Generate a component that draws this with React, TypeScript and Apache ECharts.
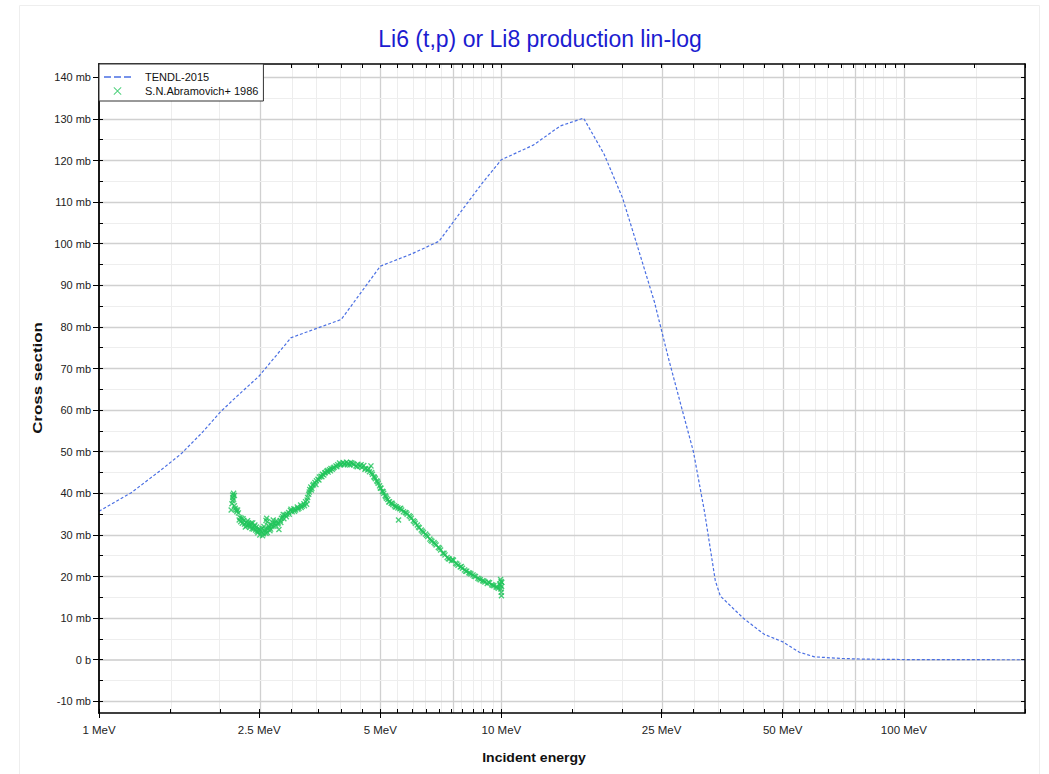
import React, { useEffect, useRef } from 'react';
import * as echarts from 'echarts';

const FONT = 'Liberation Sans, Arial, Helvetica, sans-serif';

// TENDL-2015 evaluation (MeV, mb)
const tendlEnergy = [1, 1.2, 1.4, 1.6, 1.8, 2, 2.2, 2.5, 3, 4, 5, 6, 7, 8, 9, 10, 12, 14, 16, 18, 20, 22, 24, 26, 28, 30, 32, 34, 35, 40, 45, 50, 55, 60, 70, 80, 100, 150, 200];
const tendlXs = [35.7, 40.1, 45.0, 49.5, 54.5, 59.5, 63.3, 68.2, 77.4, 81.8, 94.6, 97.6, 100.6, 108.2, 114.8, 120.2, 123.7, 128.3, 130.2, 121.5, 111, 98, 86, 72.5, 60.8, 50, 35.3, 19, 15.3, 9.9, 6.1, 4.3, 1.8, 0.7, 0.3, 0.15, 0.05, 0.01, 0];

// S.N.Abramovich+ 1986 measurement (MeV, mb)
const exforEnergy = [
  2.14, 2.15, 2.16, 2.15, 2.13, 2.17, 2.16,
  2.19, 2.20, 2.21, 2.22,
  2.24, 2.25, 2.26, 2.27, 2.29, 2.30, 2.32, 2.33, 2.35, 2.37, 2.38, 2.40, 2.41, 2.43, 2.45, 2.46,
  2.48, 2.50, 2.51, 2.53, 2.54, 2.56, 2.57, 2.58, 2.60, 2.61, 2.62, 2.63, 2.64, 2.66,
  2.68, 2.70, 2.72, 2.74, 2.76, 2.78, 2.80, 2.82, 2.84, 2.86, 2.88,
  2.90, 2.93, 2.96, 2.99, 3.02, 3.05, 3.08, 3.11, 3.14, 3.17, 3.20, 3.23, 3.26, 3.28,
  3.30, 3.32, 3.34, 3.36, 3.38, 3.41, 3.44, 3.47, 3.50,
  3.53, 3.56, 3.59, 3.62, 3.65, 3.68, 3.71, 3.74, 3.77, 3.80,
  3.84, 3.88, 3.92, 3.96, 4.00, 4.04, 4.08, 4.12, 4.16, 4.20, 4.25, 4.30, 4.35, 4.40, 4.45, 4.50, 4.55, 4.60,
  4.65, 4.70, 4.74, 4.78, 4.82, 4.86, 4.90, 4.94,
  4.98, 5.02, 5.06, 5.10, 5.14, 5.18, 5.22, 5.27, 5.32,
  5.37, 5.42, 5.48, 5.53, 5.55, 5.59, 5.65, 5.71, 5.77, 5.83,
  5.90, 5.97, 6.04, 6.11, 6.18, 6.25, 6.32, 6.40, 6.48, 6.56, 6.64, 6.72, 6.80, 6.88, 6.97, 7.06, 7.15, 7.24,
  7.33, 7.42, 7.51, 7.60, 7.70, 7.80, 7.90, 8.00, 8.10, 8.20, 8.30, 8.40,
  8.50, 8.62, 8.74, 8.86, 8.98, 9.10, 9.22, 9.34, 9.46, 9.58, 9.70, 9.82, 9.90,
  9.95, 9.97, 9.99, 10.00, 10.02, 10.01,
  2.15, 2.17, 2.18, 2.23, 2.28, 2.31, 2.34, 2.36, 2.39, 2.42, 2.44, 2.47, 2.49, 2.52, 2.55, 2.59,
  2.60, 2.62, 2.65, 2.67, 2.69, 2.71, 2.75, 2.79, 2.83, 2.87, 2.92, 2.97, 3.00, 3.06, 3.12, 3.18,
  3.24, 3.29, 3.33, 3.37, 3.40, 3.46, 3.52, 3.58, 3.64, 3.70, 3.76, 3.82, 3.90, 3.98, 4.06, 4.14,
  4.22, 4.28, 4.38, 4.48, 4.58, 4.68, 4.76, 4.84, 4.92, 5.00, 5.08, 5.16, 5.25, 5.35, 5.45, 5.62,
  5.80, 5.94, 6.08, 6.22, 6.36, 6.52, 6.68, 6.84, 7.02, 7.20, 7.38, 7.56, 7.75, 7.95, 8.15, 8.35,
  8.56, 8.80, 9.04, 9.28, 9.52, 9.76, 9.93, 9.98,
];
const exforXs = [
  37.5, 39.0, 40.0, 38.2, 36.0, 39.5, 38.6,
  36.0, 35.6, 36.0, 35.3,
  34.2, 33.2, 34.0, 32.8, 33.5, 32.6, 33.0, 32.2, 32.8, 31.8, 32.5, 31.5, 32.9, 32.1, 31.2, 31.9,
  30.5, 31.5, 30.0, 30.8, 31.6, 30.3, 32.0, 31.0, 30.4, 34.0, 33.2, 31.5, 32.2, 31.0,
  32.5, 33.0, 32.1, 32.8, 33.4, 32.6, 31.3, 33.5, 34.0, 34.4, 33.9,
  34.8, 35.0, 35.4, 35.9, 35.6, 36.3, 36.0, 36.7, 36.4, 37.2, 36.9, 37.5, 38.0, 37.4,
  39.0, 39.8, 40.9, 41.5, 41.2, 42.2, 42.6, 43.0, 43.4,
  43.9, 44.1, 44.6, 44.4, 45.0, 45.3, 45.1, 45.7, 46.0, 45.8,
  46.3, 46.6, 46.9, 47.3, 47.0, 47.4, 47.1, 47.5, 47.2, 46.8, 47.3, 46.9, 46.6, 47.0, 46.5, 46.2, 46.7, 46.0,
  45.6, 45.2, 46.6, 44.6, 44.0, 43.5, 43.0, 42.4,
  41.8, 41.2, 40.5, 40.0, 39.4, 38.8, 38.5, 38.0, 37.6,
  37.3, 37.0, 36.8, 36.5, 33.6, 36.3, 36.0, 35.6, 35.4, 35.0,
  34.6, 34.0, 33.4, 32.8, 32.4, 31.7, 31.2, 30.6, 30.2, 29.6, 29.0, 28.5, 28.2, 27.6, 27.0, 26.4, 25.6, 25.2,
  24.6, 24.2, 23.8, 23.9, 23.2, 22.7, 22.3, 22.0, 21.6, 21.3, 20.9, 20.6,
  20.4, 20.0, 19.6, 19.2, 19.0, 18.7, 18.3, 18.5, 18.0, 17.8, 17.5, 17.2, 18.2,
  19.3, 17.0, 16.2, 15.4, 18.6, 17.6,
  39.6, 37.0, 36.4, 33.6, 33.9, 31.9, 33.4, 32.3, 32.9, 31.4, 32.4, 30.9, 31.0, 31.2, 29.8, 31.4,
  33.5, 30.6, 31.8, 31.4, 32.0, 33.6, 32.3, 32.9, 33.0, 34.9, 34.4, 35.0, 36.2, 35.7, 36.2, 36.6,
  37.0, 38.4, 40.3, 40.8, 41.9, 42.1, 43.2, 44.0, 44.9, 45.5, 45.4, 46.1, 46.4, 46.8, 46.9, 46.9,
  47.4, 47.1, 46.4, 46.9, 45.8, 45.9, 45.0, 43.8, 42.8, 41.3, 40.4, 39.2, 37.9, 37.6, 36.7, 36.4,
  35.3, 34.4, 33.2, 31.9, 30.9, 29.9, 28.7, 27.9, 26.8, 25.6, 24.3, 24.1, 23.0, 22.4, 21.3, 20.8,
  20.1, 19.4, 18.9, 18.6, 17.9, 17.4, 17.9, 18.8,
];

// axes
const xMinE = 1;
const xMaxE = 200;
const yMin = -12.8;
const yMax = 143.2;
const xTickValues = [
  1, 1.5, 2, 2.5, 3, 3.5, 4, 4.5, 5, 5.5, 6, 6.5, 7, 7.5, 8, 8.5, 9, 9.5,
  10, 15, 20, 25, 30, 35, 40, 45, 50, 55, 60, 65, 70, 75, 80, 85, 90, 95,
  100, 150, 200,
];
const xLabelValues = [1, 2.5, 5, 10, 25, 50, 100];
const xLabelTexts = ['1 MeV', '2.5 MeV', '5 MeV', '10 MeV', '25 MeV', '50 MeV', '100 MeV'];
const xDarkGrid = [2.5, 5, 7.5, 10, 25, 50, 75, 100];
const yLabelValues = [-10, 0, 10, 20, 30, 40, 50, 60, 70, 80, 90, 100, 110, 120, 130, 140];
const yMinorValues = [-10, -5, 0, 5, 10, 15, 20, 25, 30, 35, 40, 45, 50, 55, 60, 65, 70, 75, 80, 85, 90, 95, 100, 105, 110, 115, 120, 125, 130, 135, 140];

const TITLE = 'Li6 (t,p) or Li8 production lin-log';
const SERIES_TENDL = 'TENDL-2015';
const SERIES_EXFOR = 'S.N.Abramovich+ 1986';

const lg = (v: number) => Math.log10(v);

const X_SYMBOL = 'path://M0,1.6L1.6,0L5,3.4L8.4,0L10,1.6L6.6,5L10,8.4L8.4,10L5,6.6L1.6,10L0,8.4L3.4,5Z';
const X_LEGEND = 'path://M0,0.8L0.8,0L5,4.2L9.2,0L10,0.8L5.8,5L10,9.2L9.2,10L5,5.8L0.8,10L0,9.2L4.2,5Z';
const DASH_ICON = 'path://M0,0H7V1.5H0Z M10,0H17V1.5H10Z M20,0H27V1.5H20Z';

export default function App() {
  const ref = useRef<HTMLDivElement>(null);

  useEffect(() => {
    if (!ref.current) return;
    const chart = echarts.init(ref.current, undefined, { renderer: 'svg' });

    const xMin = lg(xMinE);
    const xMax = lg(xMaxE);

    const gridLines: any[] = [];
    xTickValues
      .filter((v) => v > xMinE && v < xMaxE)
      .forEach((v) => {
        const dark = xDarkGrid.includes(v);
        gridLines.push({
          xAxis: lg(v),
          lineStyle: { color: dark ? '#d0d0d0' : '#ededed', width: dark ? 1.3 : 1, type: 'solid' },
        });
      });
    yMinorValues.forEach((v) => {
      const major = v % 10 === 0;
      gridLines.push({
        yAxis: v,
        lineStyle: {
          color: v === 0 ? '#d8d8d8' : major ? '#d0d0d0' : '#eeeeee',
          width: v === 0 ? 2.2 : major ? 1.3 : 1,
          type: 'solid',
        },
      });
    });

    const axisCommon = {
      type: 'value' as const,
      min: xMin,
      max: xMax,
      splitLine: { show: false },
      z: 6,
    };

    const option: any = {
      animation: false,
      backgroundColor: '#fff',
      title: {
        text: TITLE,
        left: 535,
        top: 22,
        textAlign: 'center',
        textStyle: { color: '#1c1cd0', fontSize: 23, fontWeight: 'normal', fontFamily: FONT },
      },
      legend: {
        orient: 'vertical',
        left: 99,
        top: 64,
        z: 20,
        padding: [6, 5, 3, 5],
        itemGap: 0,
        itemWidth: 27,
        itemHeight: 8,
        borderColor: '#333',
        borderWidth: 1,
        backgroundColor: '#fff',
        selectedMode: false,
        textStyle: { fontSize: 11, color: '#111', fontFamily: FONT, lineHeight: 14, padding: [0, 0, 0, 9] },
        data: [
          { name: SERIES_TENDL, icon: DASH_ICON },
          { name: SERIES_EXFOR, icon: X_LEGEND },
        ],
      },
      grid: { left: 99, top: 64, right: 24, bottom: 61, show: false },
      xAxis: [
        {
          ...axisCommon,
          position: 'bottom',
          axisLine: { show: true, onZero: false, lineStyle: { color: '#000', width: 1.6 } },
          axisTick: {
            show: true,
            inside: true,
            length: 4,
            customValues: xTickValues.map(lg),
            lineStyle: { color: '#000', width: 1 },
          },
          axisLabel: {
            show: true,
            margin: 11,
            fontSize: 11.5,
            color: '#222',
            fontFamily: FONT,
            customValues: xLabelValues.map(lg),
            formatter: (val: number) => {
              const i = xLabelValues.findIndex((v) => Math.abs(lg(v) - val) < 1e-6);
              return i >= 0 ? xLabelTexts[i] : '';
            },
          },
        },
        {
          ...axisCommon,
          position: 'bottom',
          axisLine: { show: false, onZero: false },
          axisTick: {
            show: true,
            inside: false,
            length: 5,
            customValues: xLabelValues.map(lg),
            lineStyle: { color: '#000', width: 1 },
          },
          axisLabel: { show: false },
        },
        {
          ...axisCommon,
          position: 'top',
          axisLine: { show: true, onZero: false, lineStyle: { color: '#000', width: 1.6 } },
          axisTick: {
            show: true,
            inside: true,
            length: 4,
            customValues: xTickValues.map(lg),
            lineStyle: { color: '#000', width: 1 },
          },
          axisLabel: { show: false },
        },
      ],
      yAxis: [
        {
          type: 'value',
          min: yMin,
          max: yMax,
          position: 'left',
          z: 6,
          splitLine: { show: false },
          axisLine: { show: true, onZero: false, lineStyle: { color: '#000', width: 1.8 } },
          axisTick: {
            show: true,
            inside: true,
            length: 4,
            customValues: yMinorValues,
            lineStyle: { color: '#000', width: 1 },
          },
          axisLabel: {
            show: true,
            margin: 8,
            fontSize: 11,
            color: '#222',
            fontFamily: FONT,
            customValues: yLabelValues,
            formatter: (v: number) => (Math.abs(v) < 1e-9 ? '0 b' : `${Math.round(v)} mb`),
          },
        },
        {
          type: 'value',
          min: yMin,
          max: yMax,
          position: 'left',
          z: 6,
          splitLine: { show: false },
          axisLine: { show: false, onZero: false },
          axisTick: {
            show: true,
            inside: false,
            length: 6,
            customValues: yLabelValues,
            lineStyle: { color: '#000', width: 1 },
          },
          axisLabel: { show: false },
        },
        {
          type: 'value',
          min: yMin,
          max: yMax,
          position: 'right',
          z: 6,
          splitLine: { show: false },
          axisLine: { show: true, onZero: false, lineStyle: { color: '#000', width: 1.6 } },
          axisTick: {
            show: true,
            inside: true,
            length: 4,
            customValues: yMinorValues,
            lineStyle: { color: '#000', width: 1 },
          },
          axisLabel: { show: false },
        },
      ],
      graphic: [
        {
          type: 'rect',
          silent: true,
          z: -10,
          shape: { x: 19.5, y: 5.5, width: 1020, height: 800 },
          style: { fill: 'none', stroke: '#eeeeee', lineWidth: 1 },
        },
        {
          type: 'text',
          x: 37,
          y: 378,
          rotation: Math.PI / 2,
          scaleX: 1.3,
          silent: true,
          style: {
            text: 'Cross section',
            fill: '#111',
            font: `bold 13px ${FONT}`,
            align: 'center',
            verticalAlign: 'middle',
          },
        },
        {
          type: 'text',
          x: 534,
          y: 758,
          scaleX: 1.08,
          silent: true,
          style: {
            text: 'Incident energy',
            fill: '#111',
            font: `bold 13px ${FONT}`,
            align: 'center',
            verticalAlign: 'middle',
          },
        },
      ],
      series: [
        {
          name: '__grid',
          type: 'line',
          data: [],
          z: 1,
          silent: true,
          markLine: {
            z: 1,
            silent: true,
            symbol: ['none', 'none'],
            label: { show: false },
            emphasis: { disabled: true },
            animation: false,
            data: gridLines,
          },
        },
        {
          name: SERIES_TENDL,
          type: 'line',
          z: 3,
          symbol: 'none',
          showSymbol: false,
          color: '#4a6fe3',
          lineStyle: { color: '#4a6fe3', width: 1.2, type: [3, 2] },
          data: tendlEnergy.map((e, i) => [lg(e), tendlXs[i]]),
        },
        {
          name: SERIES_EXFOR,
          type: 'scatter',
          z: 4,
          symbol: X_SYMBOL,
          symbolSize: 6,
          color: '#1fc45a',
          itemStyle: { color: '#1fc45a' },
          data: exforEnergy.map((e, i) => [lg(e), exforXs[i]]),
        },
      ],
    };

    chart.setOption(option);
    return () => chart.dispose();
  }, []);

  return (
    <div
      ref={ref}
      style={{ position: 'absolute', left: 0, top: 0, width: 1049, height: 774 }}
    />
  );
}
